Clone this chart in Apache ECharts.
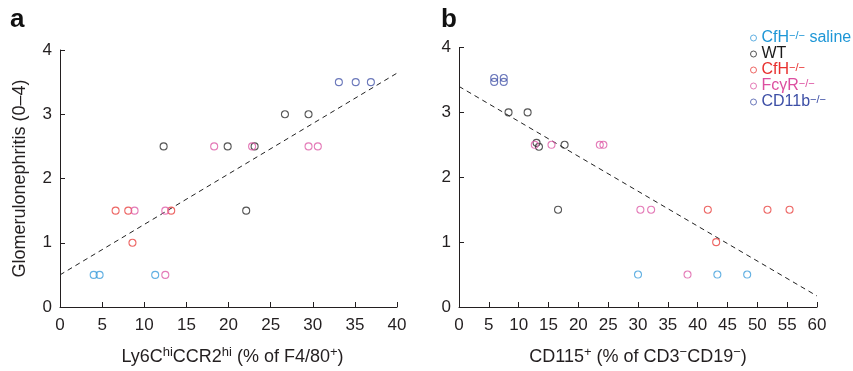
<!DOCTYPE html>
<html>
<head>
<meta charset="utf-8">
<script src="https://cdn.jsdelivr.net/npm/echarts@6/dist/echarts.min.js"></script>
<style>
  html, body { margin: 0; padding: 0; background: #fff; }
  #chart { width: 853px; height: 371px; }
</style>
</head>
<body>
<div id="chart"></div>
<script>
// panel a: Ly6C hi CCR2 hi (% of F4/80+) vs score
const salineA = [[4.0, 0.5], [4.7, 0.5], [11.3, 0.5]]
const wtA = [[12.3, 2.5], [19.9, 2.5], [23.1, 2.5], [22.1, 1.5], [26.7, 3], [29.5, 3]]
const cfhA = [[6.6, 1.5], [8.1, 1.5], [13.2, 1.5], [8.6, 1.0]]
const fcgrA = [[12.5, 0.5], [18.3, 2.5], [22.8, 2.5], [8.85, 1.5], [12.5, 1.5], [29.5, 2.5], [30.6, 2.5]]
const cd11bA = [[33.1, 3.5], [35.1, 3.5], [36.9, 3.5]]
const trendA = [[0, 0.5], [40, 3.64]]

// panel b: CD115+ (% of CD3-CD19-) vs score
const salineB = [[30.0, 0.5], [43.3, 0.5], [48.3, 0.5]]
const wtB = [[8.3, 3], [11.5, 3], [13.0, 2.53], [13.4, 2.47], [17.7, 2.5], [16.6, 1.5]]
const cfhB = [[41.7, 1.5], [43.1, 1.0], [51.7, 1.5], [55.4, 1.5]]
const fcgrB = [[12.7, 2.5], [15.5, 2.5], [23.6, 2.5], [24.2, 2.5], [30.4, 1.5], [32.2, 1.5], [38.3, 0.5]]
const cd11bB = [[5.9, 3.47], [5.9, 3.53], [7.5, 3.47], [7.5, 3.53]]
const trendB = [[0, 3.4], [60, 0.17]]

const groups = ['CfH saline', 'WT', 'CfH', 'FcgR', 'CD11b']
const groupLabels = {
  'CfH saline': '{n|CfH}{s|−/−}{n| saline}',
  'WT': '{n|WT}',
  'CfH': '{n|CfH}{s|−/−}',
  'FcgR': '{n|FcγR}{s|−/−}',
  'CD11b': '{n|CD11b}{s|−/−}'
}
const colors = {
  'CfH saline': '#3b9cdb',
  'WT': '#2a2a2a',
  'CfH': '#e8413f',
  'FcgR': '#dd5aa6',
  'CD11b': '#4757aa'
}
const textColors = {
  'CfH saline': '#1d96d6',
  'WT': '#1a1a1a',
  'CfH': '#e8302e',
  'FcgR': '#dc4fa0',
  'CD11b': '#3d4fa6'
}

const font = '"Liberation Sans", Arial, sans-serif'
const ink = '#231f20'

const supRich = {
  n: { fontSize: 18, fontFamily: font, color: ink, lineHeight: 20, verticalAlign: 'bottom' },
  s: { fontSize: 13, fontFamily: font, color: ink, lineHeight: 13, verticalAlign: 'top' }
}

function xAxisOf(grid, max, name, pad) {
  return {
    type: 'value', gridIndex: grid, min: 0, max: max, interval: 5,
    name: name, nameLocation: 'middle', nameGap: 39,
    nameTextStyle: { rich: supRich, padding: pad },
    axisLine: { lineStyle: { color: ink, width: 1 } },
    axisTick: { inside: true, length: 5, lineStyle: { color: ink } },
    axisLabel: { color: ink, fontSize: 17, fontFamily: font, margin: 10 },
    splitLine: { show: false }
  }
}
function yAxisOf(grid, name) {
  return {
    type: 'value', gridIndex: grid, min: 0, max: 4, interval: 1,
    name: name, nameLocation: 'middle', nameGap: 31,
    nameTextStyle: { color: ink, fontSize: 18, fontFamily: font },
    axisLine: { show: true, lineStyle: { color: ink, width: 1 } },
    axisTick: { show: true, inside: true, length: 5, lineStyle: { color: ink } },
    axisLabel: { color: ink, fontSize: 17, fontFamily: font, margin: 8 },
    splitLine: { show: false }
  }
}

function scatter(name, data, idx) {
  return {
    name: name, type: 'scatter', xAxisIndex: idx, yAxisIndex: idx,
    data: data, symbol: 'circle', symbolSize: 7,
    itemStyle: { color: 'rgba(255,255,255,0)', borderColor: colors[name], borderWidth: 1.1 },
    emphasis: { disabled: true }
  }
}
function trend(data, idx) {
  return {
    type: 'line', xAxisIndex: idx, yAxisIndex: idx, data: data,
    symbol: 'none', silent: true, z: 1,
    lineStyle: { color: '#222', width: 1, type: [5, 4] }
  }
}

const chart = echarts.init(document.getElementById('chart'))
chart.setOption({
  backgroundColor: '#fff',
  animation: false,
  textStyle: { fontFamily: font },
  grid: [
    { left: 60, top: 50, width: 337, height: 259.5 },
    { left: 459, top: 47.5, width: 358, height: 262 }
  ],
  xAxis: [
    xAxisOf(0, 40, '{n|Ly6C}{s|hi}{n|CCR2}{s|hi}{n| (% of F4/80}{s|+}{n|)}', [0, 0, 0, 8]),
    xAxisOf(1, 60, '{n|CD115}{s|+}{n| (% of CD3}{s|−}{n|CD19}{s|−}{n|)}', 0)
  ],
  yAxis: [
    yAxisOf(0, 'Glomerulonephritis (0–4)'),
    yAxisOf(1, '')
  ],
  legend: {
    left: 750, top: 30, orient: 'vertical', padding: 0,
    itemWidth: 6, itemHeight: 6, itemGap: 0,
    icon: 'circle',
    selectedMode: false,
    data: groups.map(g => ({
      name: g,
      itemStyle: { color: 'rgba(255,255,255,0)', borderColor: colors[g], borderWidth: 1 },
      textStyle: {
        rich: {
          n: { fontSize: 16, fontFamily: font, color: textColors[g], lineHeight: 16, verticalAlign: 'bottom' },
          s: { fontSize: 11, fontFamily: font, color: textColors[g], lineHeight: 11, verticalAlign: 'top' }
        }
      }
    })),
    formatter: name => groupLabels[name]
  },
  graphic: [
    { type: 'text', left: 10, top: 7, style: { text: 'a', font: 'bold 26px ' + font, fill: '#111' } },
    { type: 'text', left: 441, top: 7, style: { text: 'b', font: 'bold 26px ' + font, fill: '#111' } }
  ],
  series: [
    trend(trendA, 0),
    scatter('CfH saline', salineA, 0),
    scatter('WT', wtA, 0),
    scatter('CfH', cfhA, 0),
    scatter('FcgR', fcgrA, 0),
    scatter('CD11b', cd11bA, 0),
    trend(trendB, 1),
    scatter('CfH saline', salineB, 1),
    scatter('WT', wtB, 1),
    scatter('CfH', cfhB, 1),
    scatter('FcgR', fcgrB, 1),
    scatter('CD11b', cd11bB, 1)
  ]
})
</script>
</body>
</html>
